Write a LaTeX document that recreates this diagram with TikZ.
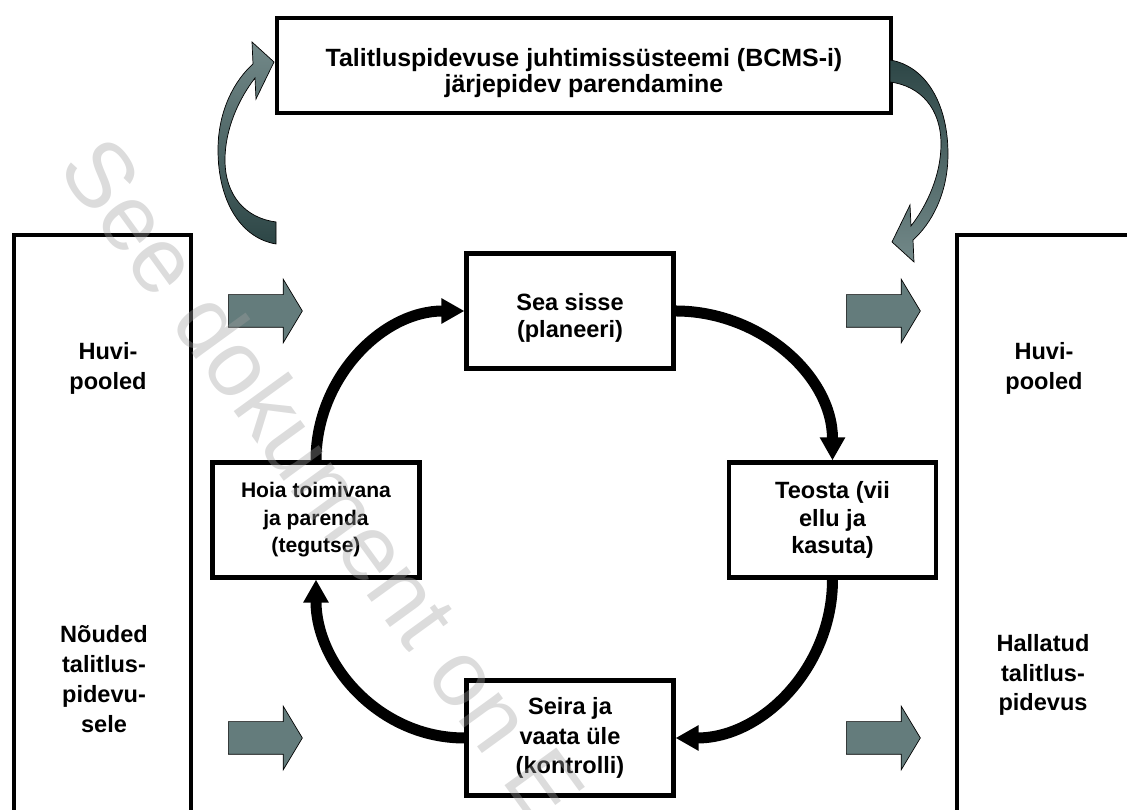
\documentclass[tikz,border=0pt]{standalone}
\usepackage{fontspec}
\setmainfont{Liberation Sans}
\usetikzlibrary{arrows.meta,positioning,shapes.arrows}

\definecolor{blockfill}{RGB}{100,124,124}
\definecolor{bendlight}{RGB}{115,137,137}
\definecolor{benddark}{RGB}{45,70,70}
\definecolor{wmgray}{RGB}{160,160,160}

% outline of the bent grey arrow (pixel units, y downwards)
\newcommand{\bendpath}{(276,244) .. controls (240,238) and (218,200) .. (218,150)
       .. controls (218,110) and (235,80) .. (253,64) -- (252,42) -- (274,62)
       -- (256,99) -- (255,78)
       .. controls (238,100) and (225,130) .. (225,160)
       .. controls (225,195) and (245,218) .. (276,222) -- cycle}

\tikzset{
    %Define standard arrow tip
    >={Triangle[length=0.46cm,width=0.48cm]},
    %Define style for boxes
    box/.style={
           rectangle,
           draw=black, line width=0.085cm,
           minimum width=4.14cm,
           minimum height=2.3cm,
           align=center,
           font=\bfseries\fontsize{13.4}{15.5}\selectfont},
    sidebox/.style={
           rectangle,
           draw=black, line width=0.085cm,
           minimum width=3.54cm,
           minimum height=12.5cm},
    annot/.style={
           align=center,
           font=\bfseries\fontsize{13.4}{17}\selectfont},
    %Define style for grey block arrows
    blockarr/.style={
           single arrow, draw=black, thin, fill=blockfill,
           minimum height=1.48cm, minimum width=1.26cm,
           inner xsep=0pt, inner ysep=0.32cm,
           single arrow head extend=0.31cm,
           single arrow tip angle=118, anchor=tail},
    bendarr/.style={
           draw=black, thin,
           top color=bendlight, bottom color=benddark},
    bendarr-r/.style={
           draw=black, thin,
           top color=benddark, bottom color=bendlight},
    % Define arrow style
    arr/.style={
           ->,
           line width=0.22cm}
}

\begin{document}
\begin{tikzpicture}[x=0.02cm,y=0.02cm]
  \useasboundingbox (0,0) rectangle (1127,810);
  \clip (0,0) rectangle (1127,810);

  \node[box, minimum width=12.28cm, minimum height=1.9cm,
        font=\bfseries\fontsize{14.2}{14.5}\selectfont] (bcms) at (584,744.5)
        {\rule{0pt}{19pt}Talitluspidevuse juhtimissüsteemi (BCMS-i)\\järjepidev parendamine};

  \node[sidebox] (parties-in) at (102.5,262.5) {};
  \node[sidebox] (parties-out) at (1045.5,262.5) {};

  \node[annot] (huvi-in) at (108,442) {Huvi-\\pooled};
  \node[annot] (noudes) at (104,131) {Nõuded\\talitlus-\\pidevu-\\sele};
  \node[annot] (huvi-out) at (1044,442) {Huvi-\\pooled};
  \node[annot] (hallatud) at (1043,135) {Hallatud\\talitlus-\\pidevus};

  \node[blockarr] (in-top) at (228,499) {};
  \node[blockarr] (in-bot) at (228,72) {};
  \node[blockarr] (out-top) at (846,499) {};
  \node[blockarr] (out-bot) at (846,72) {};

  \node[box] (plan) at (570,499) {\rule{0pt}{17.5pt}Sea sisse\\(planeeri)};
  \node[box] (do) at (832.5,290) {Teosta (vii\\ellu ja\\kasuta)};
  \node[box, font=\bfseries\fontsize{13.4}{17}\selectfont] (check) at (570,72)
        {Seira ja\\vaata üle\\(kontrolli)};
  \node[box, font=\bfseries\fontsize{12}{15.6}\selectfont] (act) at (316,290)
        {Hoia toimivana\\ja parenda\\(tegutse)};

  \draw[arr] (plan.east) to[out=0,in=90] (do.north);
  \draw[arr] (do.south) to[out=-90,in=0] (check.east);
  \draw[arr] (check.west) to[out=180,in=-90] (act.south);
  \draw[arr] (act.north) to[out=90,in=180] (plan.west);

  \begin{scope}[shift={(0,810)}, yscale=-1]
    \path[bendarr] \bendpath;
    \path[bendarr-r, rotate around={180:(583,152)}] \bendpath;
  \end{scope}

  \node[font=\fontsize{53}{53}\selectfont, text=wmgray, opacity=0.37,
        rotate=-54, anchor=base west] (wmark) at (53,647) {See dokument on E};
\end{tikzpicture}
\end{document}
